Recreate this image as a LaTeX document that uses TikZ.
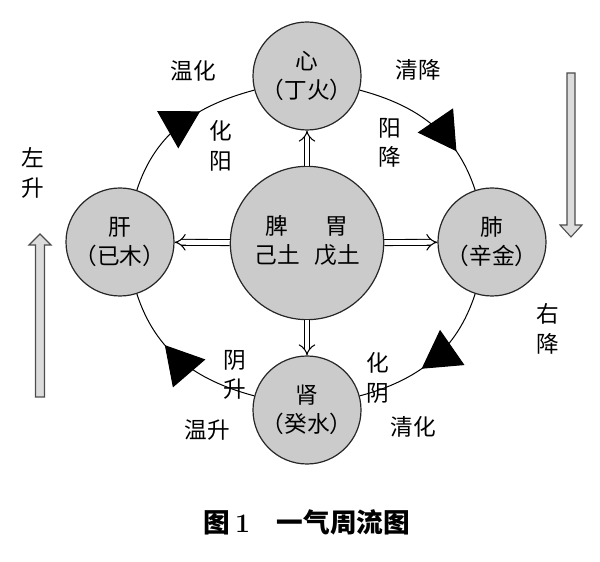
\documentclass[tikz,border=0pt]{standalone}
\usepackage{fontspec}
\newfontfamily\cjk{Noto Sans CJK SC}
\usetikzlibrary{arrows.meta,decorations.markings}
\definecolor{organfill}{RGB}{203,203,203}
\definecolor{risefill}{RGB}{220,220,220}
\tikzset{
    organ/.style={circle, draw=black!85, line width=0.9pt, fill=organfill, minimum size=81pt, inner sep=0pt, align=center},
    hollow/.style={double, double distance=3.6pt, line width=0.8pt, -{Implies}},
    flow/.style={line width=0.75pt, postaction={decorate},
        decoration={markings, mark=at position #1 with {\arrow{Triangle[length=28pt,width=32pt]}}}},
    bigarrow/.style={draw=black!70, line width=0.8pt, fill=risefill}
}
\begin{document}
\begin{tikzpicture}[x=0.75pt, y=0.75pt, every node/.style={font=\cjk\fontsize{17}{22}\selectfont}]
            \useasboundingbox (0,0) rectangle (600,561);
            \node[organ, minimum size=115pt] (pw) at (307,318) {%
                \begin{tabular}{@{}c@{\hspace{11pt}}c@{}}脾 & 胃\\ 己土 & 戊土\end{tabular}};
            \node[organ] (xin) at (307,485) {心\\（丁火）};
            \node[organ] (gan) at (120,319) {肝\\（已木）};
            \node[organ] (fei) at (492,319) {肺\\（辛金）};
            \node[organ] (shen) at (307,151) {肾\\（癸水）};
            \foreach \t in {xin,gan,fei,shen} {
                \draw[hollow] (pw) -- (\t);
            }
            \draw[flow=0.64] (gan) to[out=72, in=195] (xin);
            \draw[flow=0.73] (xin) to[out=-15, in=108] (fei);
            \draw[flow=0.58] (fei) to[out=-108, in=15] (shen);
            \draw[flow=0.64] (shen) to[out=165, in=-72] (gan);
            \node (wenhua) at (193,490) {温化};
            \node[align=center] (huayang) at (221,415) {化\\阳};
            \node (qingjiang) at (418,491) {清降};
            \node[align=center] (yangjiang) at (390,418) {阳\\降};
            \node[align=center] (zuosheng) at (33,388) {左\\升};
            \node[align=center] (youjiang) at (548,232) {右\\降};
            \node[align=center] (yinsheng) at (235,186) {阴\\升};
            \node (wensheng) at (207,131) {温升};
            \node[align=center] (huayin) at (378,183) {化\\阴};
            \node (qinghua) at (413,134) {清化};
            \draw[bigarrow] (35.5,164) -- (35.5,316) -- (29,316) -- (40,327) -- (51,316) -- (44.5,316) -- (44.5,164) -- cycle;
            \draw[bigarrow] (567,488) -- (567,336) -- (560,336) -- (571,324) -- (582,336) -- (575,336) -- (575,488) -- cycle;
            \node[font=\cjk\fontsize{20}{24}\selectfont\bfseries] (caption) at (307,39) {图\,{\rmfamily 1}\quad 一气周流图};
        \end{tikzpicture}
\end{document}
